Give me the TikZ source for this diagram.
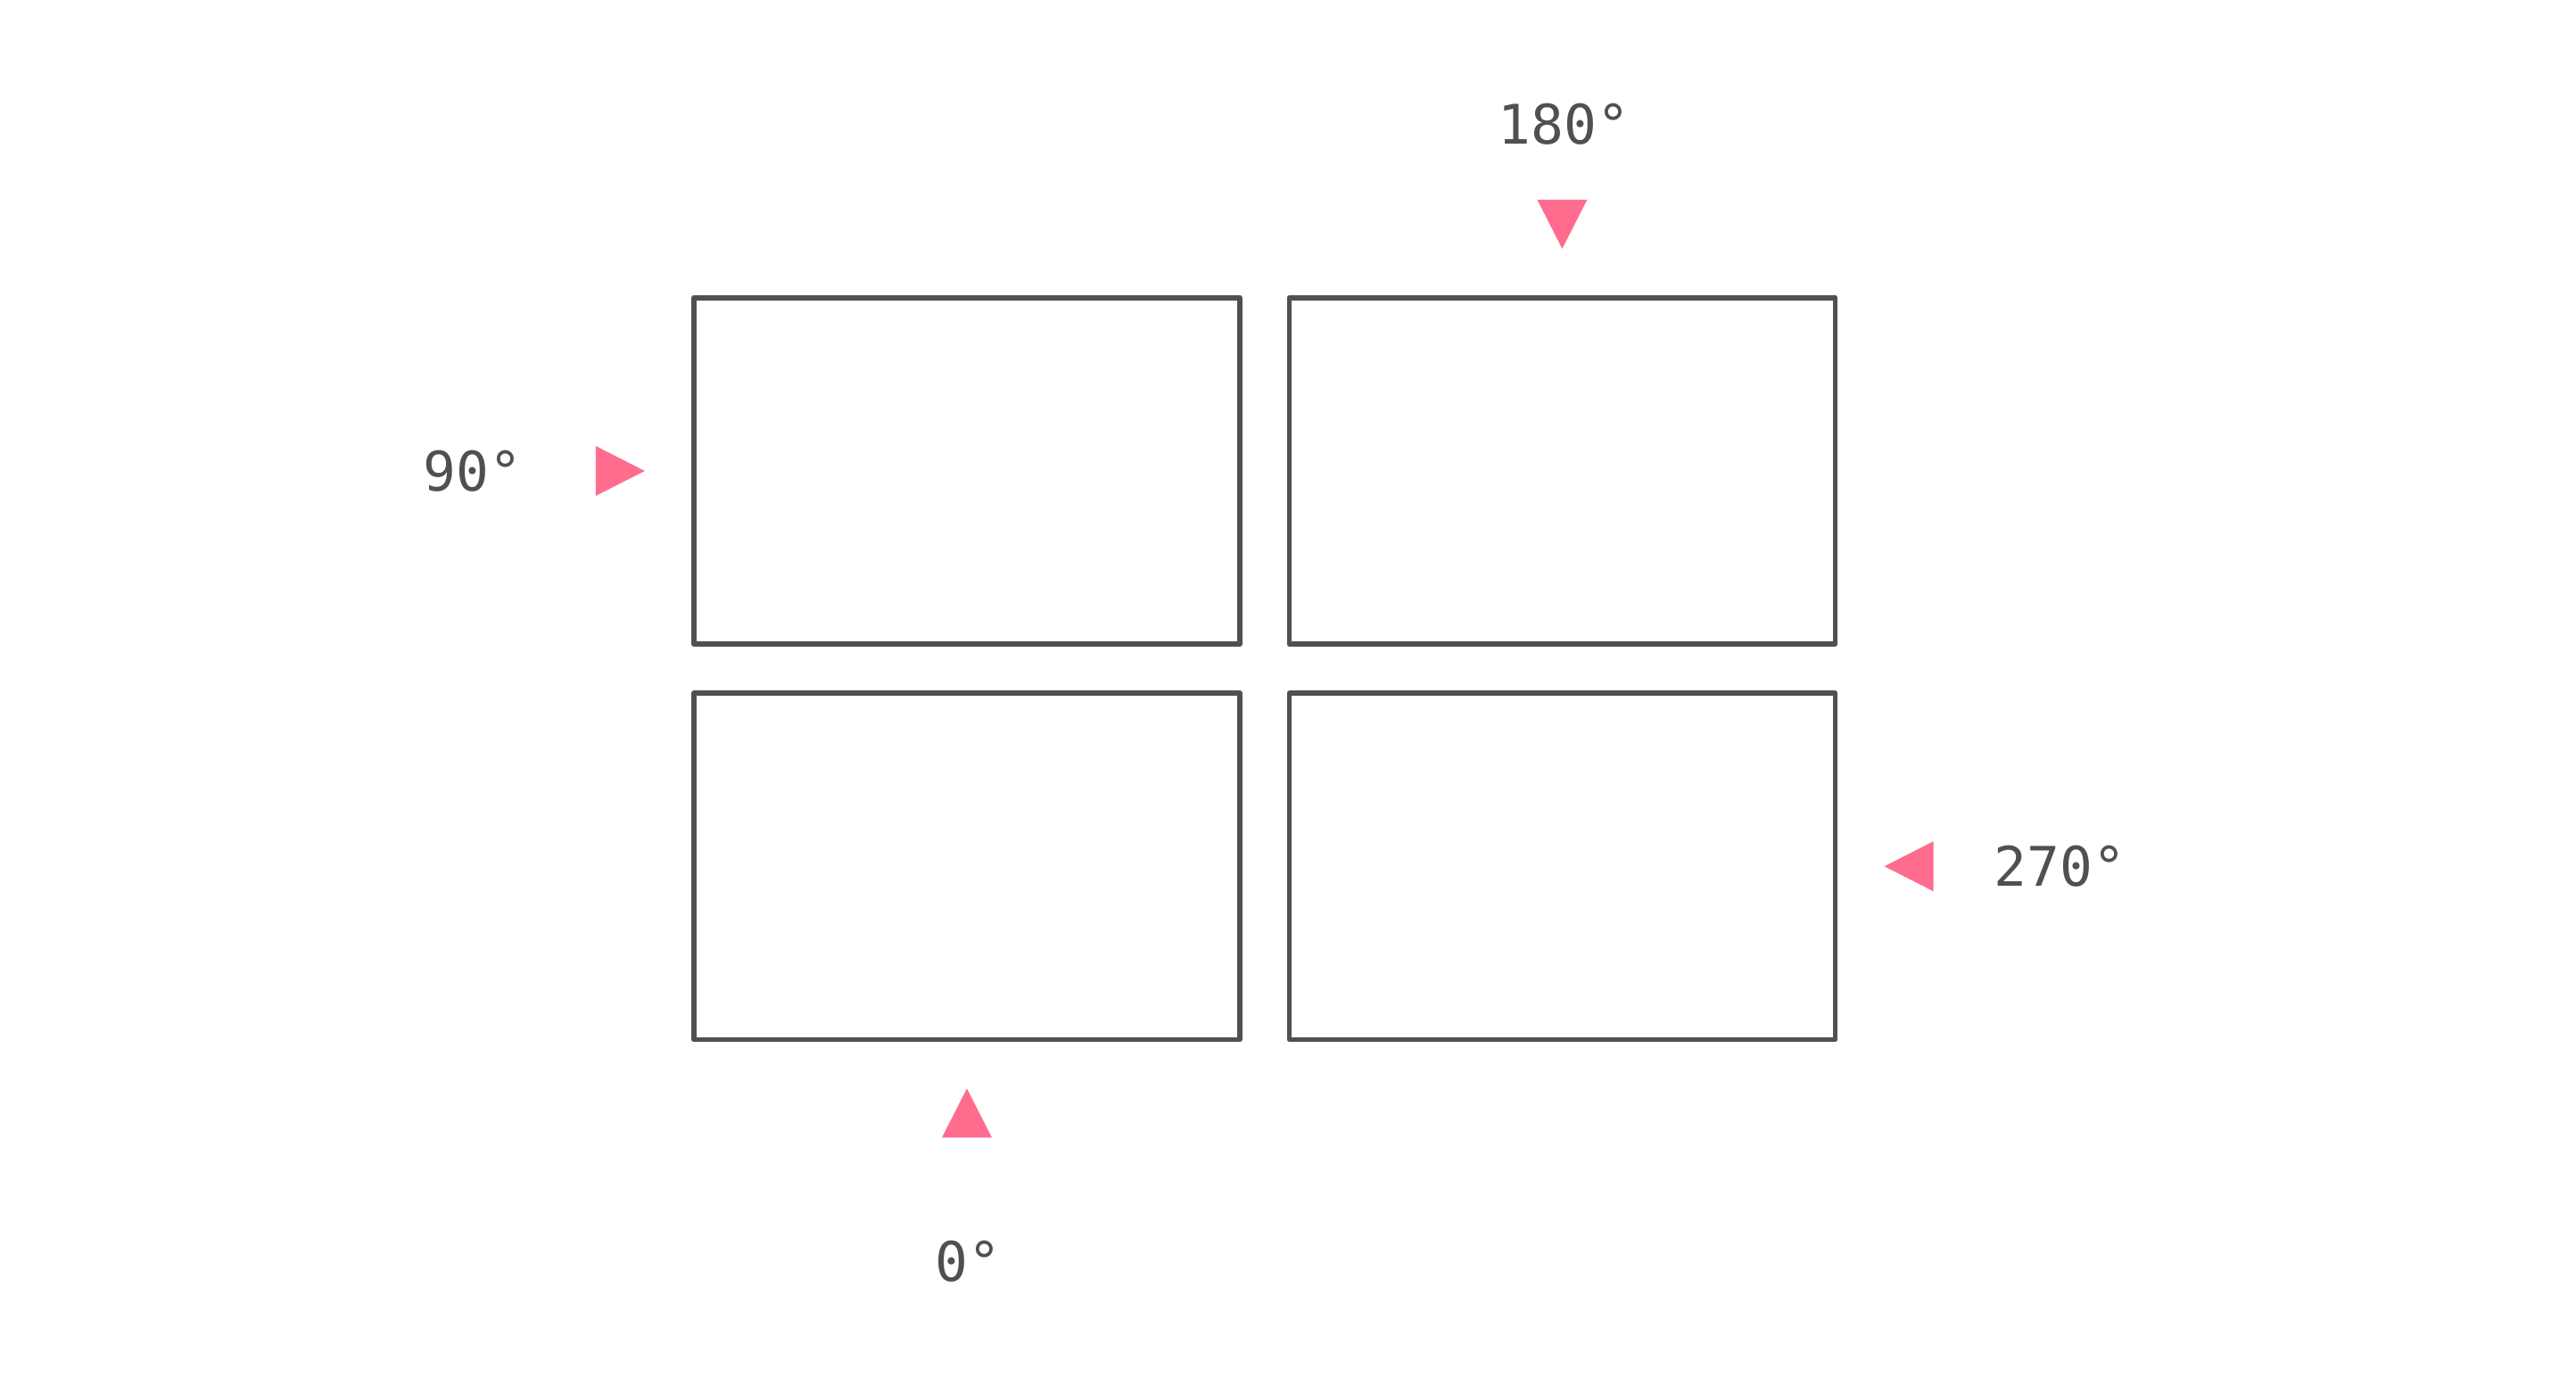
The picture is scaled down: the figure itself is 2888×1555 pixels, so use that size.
\documentclass[tikz,border=0pt]{standalone}
\usepackage{fontspec}
\setmonofont{DejaVu Sans Mono}
\usetikzlibrary{positioning,calc}
\definecolor{FrameGray}{RGB}{80,80,80}
\definecolor{MarkPink}{RGB}{255,108,142}
\tikzset{
  qbox/.style={draw=FrameGray,line width=1.55pt,line join=round,
               minimum width=6.12cm,minimum height=3.88cm,
               inner sep=0pt,outer sep=0pt},
  pmark/.style={fill=MarkPink,draw=none},
  deglabel/.style={font=\ttfamily\fontsize{17.4}{21}\selectfont,
                   text=FrameGray,inner sep=0pt},
}
\begin{document}
\begin{tikzpicture}[x=0.01cm,y=0.01cm,node distance=0.55cm]
  \useasboundingbox (0,0) rectangle (2888,1555);
  % the four panels
  \node[qbox] (q1) at (1084,1027) {};
  \node[qbox,right=of q1] (q2) {};
  \node[qbox,below=of q1] (q3) {};
  \node[qbox,right=of q3] (q4) {};
  % markers
  \fill[pmark] ($(q2.north)+(0,55)$) -- ++(-28,55) -- ++(56,0) -- cycle;
  \fill[pmark] ($(q1.west)+(-55,0)$) -- ++(-55,28) -- ++(0,-56) -- cycle;
  \fill[pmark] ($(q3.south)+(0,-55)$) -- ++(-28,-55) -- ++(56,0) -- cycle;
  \fill[pmark] ($(q4.east)+(55,0)$) -- ++(55,28) -- ++(0,-56) -- cycle;
  % angle labels
  \node[deglabel] (l180) at ($(q2.north)+(2,195)$) {180°};
  \node[deglabel] (l90) at ($(q1.west)+(-248,0)$) {90°};
  \node[deglabel] (l0) at ($(q3.south)+(1,-249)$) {0°};
  \node[deglabel] (l270) at ($(q4.east)+(252,0)$) {270°};
\end{tikzpicture}
\end{document}
